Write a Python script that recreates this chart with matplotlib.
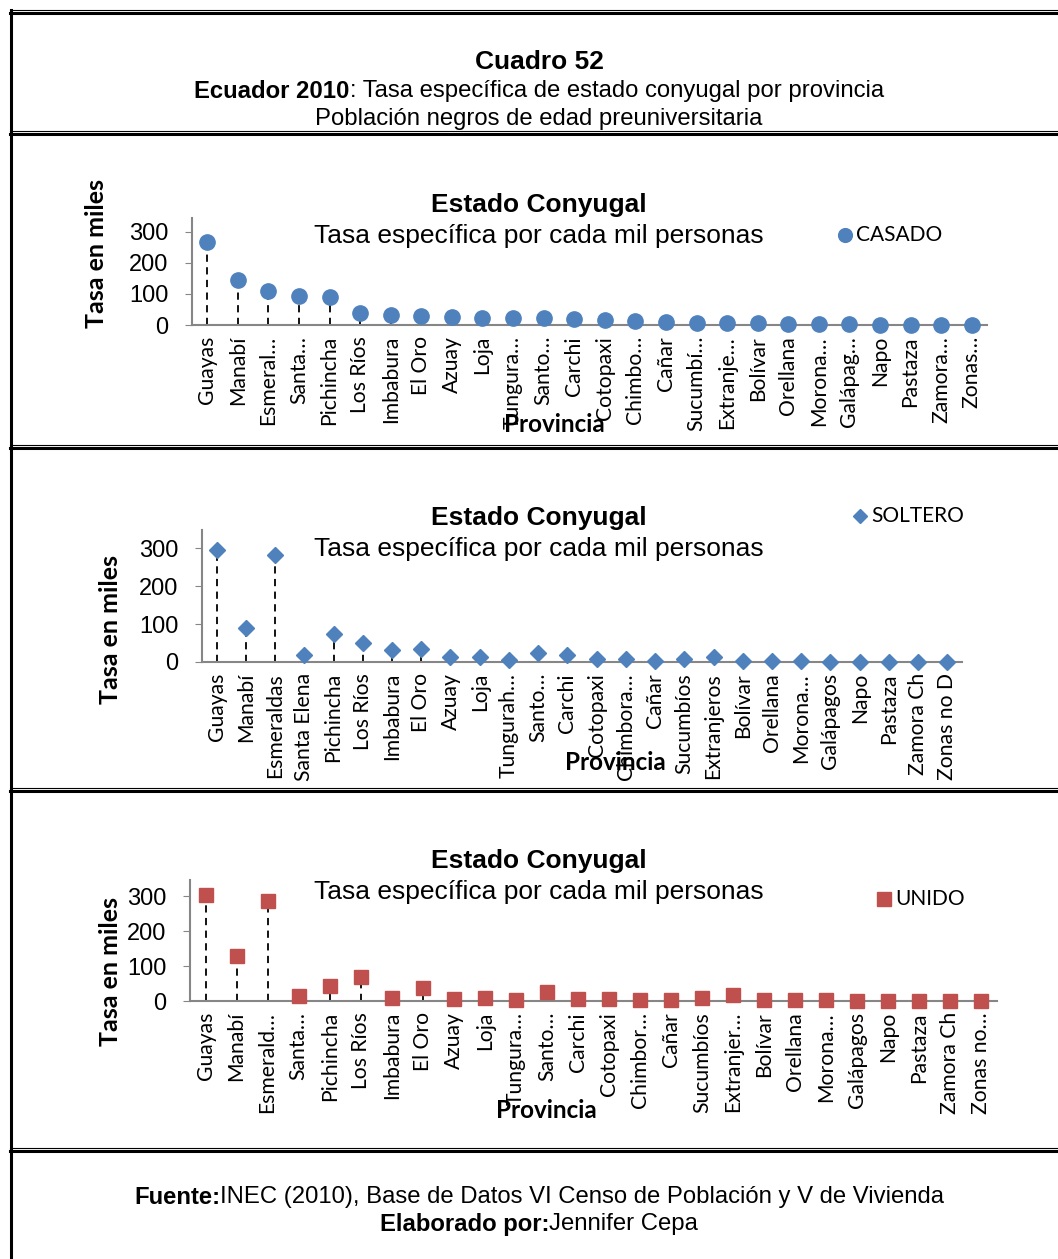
#!/usr/bin/env python3
"""Cuadro 52 - tasa especifica de estado conyugal por provincia"""
import numpy as np
import matplotlib
matplotlib.use("Agg")
import matplotlib.pyplot as plt
from matplotlib.lines import Line2D

W, H = 1058, 1259

prov_casado = ["Guayas", "Manabí", "Esmeral…", "Santa…", "Pichincha",
               "Los Ríos", "Imbabura", "El Oro", "Azuay", "Loja",
               "Tungura…", "Santo…", "Carchi", "Cotopaxi", "Chimbo…",
               "Cañar", "Sucumbí…", "Extranje…", "Bolívar", "Orellana",
               "Morona…", "Galápag…", "Napo", "Pastaza", "Zamora…",
               "Zonas…"]
prov_soltero = ["Guayas", "Manabí", "Esmeraldas", "Santa Elena",
                "Pichincha", "Los Ríos", "Imbabura", "El Oro", "Azuay",
                "Loja", "Tungurah…", "Santo…", "Carchi", "Cotopaxi",
                "Chimbora…", "Cañar", "Sucumbíos", "Extranjeros",
                "Bolívar", "Orellana", "Morona…", "Galápagos", "Napo",
                "Pastaza", "Zamora Ch", "Zonas no D"]
prov_unido = ["Guayas", "Manabí", "Esmerald…", "Santa…", "Pichincha",
              "Los Ríos", "Imbabura", "El Oro", "Azuay", "Loja",
              "Tungura…", "Santo…", "Carchi", "Cotopaxi", "Chimbor…",
              "Cañar", "Sucumbíos", "Extranjer…", "Bolívar", "Orellana",
              "Morona…", "Galápagos", "Napo", "Pastaza", "Zamora Ch",
              "Zonas no…"]

casado = [268, 145, 110, 93, 91, 38, 33, 28, 26, 23, 21, 21, 20, 16, 14,
          11, 8, 8, 6, 3, 2, 2, 1, 1, 0.5, 0.5]
soltero = [294, 89, 283, 18, 75, 49, 31, 33, 13, 14, 5, 24, 18, 8, 7,
           3, 9, 13, 3, 3, 3, 1, 1, 0.5, 0.5, 0.5]
unido = [302, 129, 286, 14, 44, 70, 9, 37, 7, 8, 3, 26, 6, 7, 4, 4, 8,
         16, 3, 3, 2, 0.5, 1, 1, 1, 1]

GREY = "#868686"
TICK_FONT = "Lato"
ARIAL = "Liberation Sans"

fig = plt.figure(figsize=(W / 100, H / 100), dpi=100)


def px_axes(x0, x1, y_top, y_zero):
    """Axes from pixel bounds (top-left origin)."""
    return fig.add_axes([x0 / W, 1 - y_zero / H, (x1 - x0) / W,
                         (y_zero - y_top) / H])


def panel(ax, labels, values, marker, ms, color, ytop, legend,
          title_y, leg_xy, ylab_xy, prov_xy):
    x = np.arange(len(values))
    ax.vlines(x, 0, values, colors="black", linestyles=(0, (4, 3)),
              linewidth=1.3, zorder=2)
    ax.plot(x, values, linestyle="none", marker=marker, ms=ms,
            color=color, mec=color, zorder=3, clip_on=False)
    ax.set_xlim(-0.5, len(values) - 0.5)
    ax.set_ylim(0, ytop)
    ax.set_yticks([0, 100, 200, 300])
    ax.tick_params(axis="y", labelsize=17, length=5, color=GREY,
                   pad=12)
    for t in ax.get_yticklabels():
        t.set_family(ARIAL)
    ax.set_xticks(x)
    ax.set_xticklabels(labels, rotation=90, family=TICK_FONT,
                       fontsize=15.2, va="top", ha="center")
    ax.tick_params(axis="x", length=0, pad=8)
    for s in ["top", "right"]:
        ax.spines[s].set_visible(False)
    for s in ["left", "bottom"]:
        ax.spines[s].set_color(GREY)
        ax.spines[s].set_linewidth(1.5)
    ax.patch.set_alpha(0)

    fig.text(539 / W, 1 - title_y / H, "Estado Conyugal", ha="center",
             va="center", fontsize=19, fontweight="bold", family=ARIAL)
    fig.text(539 / W, 1 - (title_y + 31) / H,
             "Tasa específica por cada mil personas", ha="center",
             va="center", fontsize=19, family=ARIAL)
    fig.add_artist(Line2D([leg_xy[0] / W], [1 - leg_xy[1] / H],
                          marker=marker, ms=ms * 0.9, color=color,
                          linestyle="none"))
    fig.text((leg_xy[0] + 11) / W, 1 - leg_xy[1] / H, legend,
             ha="left", va="center", fontsize=15, family=TICK_FONT)
    fig.text(ylab_xy[0] / W, 1 - ylab_xy[1] / H, "Tasa en miles",
             rotation=90, ha="center", va="center", fontsize=18,
             fontweight="bold", family=TICK_FONT)
    fig.text(prov_xy[0] / W, 1 - prov_xy[1] / H, "Provincia",
             ha="center", va="center", fontsize=17.5, fontweight="bold",
             family=TICK_FONT)


def two_part(y, bold, rest, size):
    """Centered line with a bold lead-in followed by regular text."""
    t1 = fig.text(0, 1 - y / H, bold, ha="left", va="center",
                  fontsize=size, fontweight="bold", family=ARIAL)
    t2 = fig.text(0, 1 - y / H, rest, ha="left", va="center",
                  fontsize=size, family=ARIAL)
    r = fig.canvas.get_renderer()
    w1 = t1.get_window_extent(r).width
    w2 = t2.get_window_extent(r).width
    x0 = 539 - (w1 + w2) / 2
    t1.set_x(x0 / W)
    t2.set_x((x0 + w1) / W)


ax1 = px_axes(192, 987, 218, 325)
panel(ax1, prov_casado, casado, "o", 11, "#4F81BD", 345, "CASADO",
      205, (845, 235), (97, 254), (554, 425))

ax2 = px_axes(202, 962, 530, 662)
panel(ax2, prov_soltero, soltero, "D", 8, "#4F81BD", 348, "SOLTERO",
      518, (860, 516), (110, 630), (615, 763))

ax3 = px_axes(190, 997, 880, 1001)
panel(ax3, prov_unido, unido, "s", 10.5, "#C0504D", 346, "UNIDO",
      861, (884, 899), (111, 972), (546, 1110))

# header
fig.text(539 / W, 1 - 62 / H, "Cuadro 52", ha="center", va="center",
         fontsize=19, fontweight="bold", family=ARIAL)
two_part(91, "Ecuador 2010",
         ": Tasa específica de estado conyugal por provincia", 17.2)
fig.text(539 / W, 1 - 119 / H, "Población negros de edad preuniversitaria",
         ha="center", va="center", fontsize=17.2, family=ARIAL)

# footer
two_part(1197, "Fuente:",
         "INEC (2010), Base de Datos VI Censo de Población y V de Vivienda",
         17.2)
two_part(1224, "Elaborado por:", "Jennifer Cepa", 17.2)

# table frame: double lines
for y in [12, 133, 447, 790, 1150]:
    fig.add_artist(Line2D([10 / W, 1], [1 - (y - 2) / H] * 2,
                          color="black", lw=0.8))
    fig.add_artist(Line2D([10 / W, 1], [1 - (y + 1) / H] * 2,
                          color="black", lw=2.2))
fig.add_artist(Line2D([11 / W] * 2, [0, 1 - 10 / H], color="black",
                      lw=2.2))

fig.savefig("out.png", dpi=100)
